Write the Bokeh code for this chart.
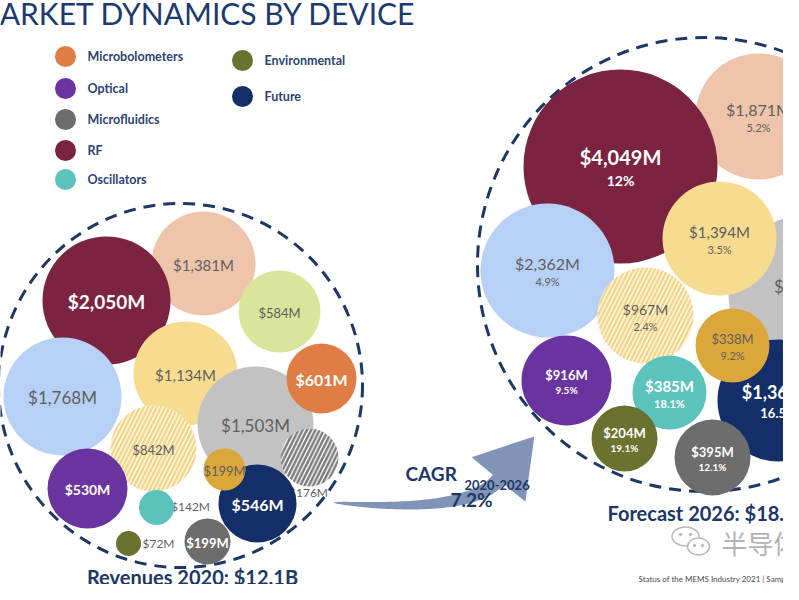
import numpy as np
from bokeh.plotting import figure
from bokeh.models import ColumnDataSource, Range1d
from bokeh.embed import file_html
from bokeh.resources import INLINE
from bokeh.core.properties import value

# ---------------- data ----------------
title_text = "MARKET DYNAMICS BY DEVICE"
legend_names = ["Microbolometers", "Optical", "Microfluidics", "RF", "Oscillators",
                "Environmental", "Future"]

devices_2020 = ["Microphones", "Inkjet", "RF", "Accelerometers", "Pressure",
                "Inertial combos", "Microbolometers", "Gyroscopes", "Others", "Optical",
                "Future", "Thermopiles", "Oscillators", "Environmental", "Microfluidics"]
revenue_2020 = [1381, 584, 2050, 1134, 1768, 1503, 601, 842, 176, 530, 546, 199, 142, 72, 199]

devices_2026 = ["Inertial combos", "Microphones", "RF", "Pressure", "Accelerometers",
                "Gyroscopes", "Future", "Thermopiles", "Optical", "Oscillators",
                "Environmental", "Microfluidics"]
revenue_2026 = [2132, 1871, 4049, 2362, 1394, 967, 1363, 338, 916, 385, 204, 395]
cagr_2026 = [6.0, 5.2, 12, 4.9, 3.5, 2.4, 16.5, 9.2, 9.5, 18.1, 19.1, 12.1]

total_2020 = "Revenues 2020: $12.1B"
total_2026 = "Forecast 2026: $18.2B"
cagr_period = "2020-2026"
cagr_total = 7.2

# ---------------- styles ----------------
NAVY = "#1d3766"
LABEL_GRAY = "#5f5f5f"
FONT = "Lato"
fill_colors = {
    "Microphones": "#EEC5AB", "Inkjet": "#D9E59B", "RF": "#7B2341",
    "Accelerometers": "#F7DC8F", "Pressure": "#B7D0F6", "Inertial combos": "#C2C2C2",
    "Microbolometers": "#E07D45", "Gyroscopes": "#FFFFFF", "Others": "#FFFFFF",
    "Optical": "#6A34A0", "Future": "#142F68", "Thermopiles": "#DCA73A",
    "Oscillators": "#5BC3BC", "Environmental": "#6A7230", "Microfluidics": "#6D6D6D",
}
hatch_colors = {"Gyroscopes": "#F5D27E", "Others": "#7A7A7A"}
dark_devices = {"RF", "Microbolometers", "Optical", "Future", "Oscillators",
                "Environmental", "Microfluidics"}

# ---------------- layout (pixel positions of the packed bubbles) ----------------
cx_2020 = [203, 279, 106, 185, 62, 255, 321, 153, 309, 87, 257, 224, 156, 128, 207]
cy_2020 = [271, 319, 308, 381, 404, 432, 386, 456, 465, 496, 511, 477, 515, 551, 549]
rad_2020 = [52, 41, 64, 52, 59, 58, 35, 43, 29, 40, 39, 21, 17.5, 12.5, 23]
fs_2020 = [15, 13, 19, 15, 17, 17, 16, 13, 12, 14, 16, 13, 12, 12, 13]
outside_label_2020 = {"Others": (308, 500), "Oscillators": (190, 514), "Environmental": (158, 551)}

cx_2026 = [808, 758, 620, 547, 719, 645, 778, 732, 566, 669, 624, 712]
cy_2026 = [302, 124, 174, 278, 246, 323, 408, 353, 388, 400, 446, 465]
rad_2026 = [80, 63, 97, 67, 57, 48, 61, 37, 45, 37, 33, 38]
fsv_2026 = [17, 16, 20, 16, 15, 14, 18, 13, 13, 15, 13, 13]
fsg_2026 = [12, 11, 14, 11, 11, 11, 13, 11, 10, 11, 10, 10]

ring_2020 = (180, 393, 182)
ring_2026 = (704, 272, 227)

legend_x = [65, 65, 65, 65, 65, 242, 242]
legend_y = [64, 96, 127, 158, 187, 68, 104]

# ---------------- figure ----------------
p = figure(width=783, height=584, x_range=Range1d(0, 783), y_range=Range1d(592, 8),
           output_backend="svg", toolbar_location=None,
           x_axis_location=None, y_axis_location=None,
           min_border=0, min_border_left=0, min_border_right=0,
           min_border_top=0, min_border_bottom=0)
p.grid.visible = False
p.outline_line_color = None
p.background_fill_color = "white"
p.border_fill_color = "white"

# title
p.text(x=[416], y=[20], text=[title_text], text_align="right", text_baseline="middle",
       text_font=value(FONT), text_font_size="30px", text_color="#1c3a70")

# legend
leg = ColumnDataSource(dict(x=legend_x, y=legend_y, name=legend_names,
                            color=[fill_colors[n] for n in legend_names],
                            tx=[x + 22 for x in legend_x]))
p.circle(x="x", y="y", radius=10.5, source=leg, fill_color="color", line_color=None)
p.text(x="tx", y="y", text="name", source=leg, text_baseline="middle",
       text_font=value(FONT), text_font_size="12.5px", text_color="#2d4373",
       text_font_style="bold")

# dashed rings
p.circle(x=[ring_2020[0], ring_2026[0]], y=[ring_2020[1], ring_2026[1]],
         radius=[ring_2020[2], ring_2026[2]], fill_color=None, line_color=NAVY,
         line_width=3, line_dash="12 8")

# arrow (curved band + head)
M = np.array([498.0, 487.0])
d = np.array([0.64, -0.77]); d = d / np.linalg.norm(d)
n = np.array([-d[1], d[0]])
P0 = np.array([332.0, 510.0]); P1 = M - 45 * d; P2 = M
s = np.linspace(0, 1, 60)[:, None]
C = (1 - s) ** 2 * P0 + 2 * s * (1 - s) * P1 + s ** 2 * P2
T = 2 * (1 - s) * (P1 - P0) + 2 * s * (P2 - P1)
T = T / np.linalg.norm(T, axis=1)[:, None]
N = np.column_stack([-T[:, 1], T[:, 0]])
w = 7.5 * s ** 0.5
upper = C - w * N
lower = C + w * N
head = np.array([M - 35 * n, M + 56 * d, M + 35 * n])
poly = np.vstack([upper, head, lower[::-1]])
p.patch(x=poly[:, 0], y=poly[:, 1], fill_color="#8094b7", line_color=None)

# ---- bubbles 2020 ----
lx, ly, lcol, lstyle = [], [], [], []
for name, x, y in zip(devices_2020, cx_2020, cy_2020):
    if name in outside_label_2020:
        ox, oy = outside_label_2020[name]
        lx.append(ox); ly.append(oy); lcol.append(LABEL_GRAY); lstyle.append("normal")
    else:
        lx.append(x); ly.append(y + 1)
        dark = name in dark_devices
        lcol.append("white" if dark else LABEL_GRAY)
        lstyle.append("bold" if dark else "normal")

src20 = ColumnDataSource(dict(
    x=cx_2020, y=cy_2020, r=rad_2020,
    color=[fill_colors[n] for n in devices_2020],
    hatch=["/" if n in hatch_colors else " " for n in devices_2020],
    hcolor=[hatch_colors.get(n, "#FFFFFF") for n in devices_2020],
    label=[f"${v:,}M" for v in revenue_2020],
    lx=lx, ly=ly, lcol=lcol, lstyle=lstyle,
    fs=[f"{f}px" for f in fs_2020],
    outside=[n in outside_label_2020 for n in devices_2020],
))
out_idx = [i for i, o in enumerate(src20.data["outside"]) if o]
in_idx = [i for i, o in enumerate(src20.data["outside"]) if not o]


def subset(src, idx):
    return ColumnDataSource({k: [v[i] for i in idx] for k, v in src.data.items()})


# outside labels first (they sit under neighbouring bubbles)
p.text(x="lx", y="ly", text="label", source=subset(src20, out_idx), text_align="center",
       text_baseline="middle", text_font=value(FONT), text_font_size="fs",
       text_color="lcol", text_font_style="lstyle")
p.circle(x="x", y="y", radius="r", source=src20, fill_color="color", line_color=None,
         hatch_pattern="hatch", hatch_color="hcolor", hatch_scale=8.5, hatch_weight=2.5)
p.text(x="lx", y="ly", text="label", source=subset(src20, in_idx), text_align="center",
       text_baseline="middle", text_font=value(FONT), text_font_size="fs",
       text_color="lcol", text_font_style="lstyle")

# ---- bubbles 2026 ----
gap = [0.68 * (a + b) for a, b in zip(fsv_2026, fsg_2026)]
dark26 = [n in dark_devices for n in devices_2026]
src26 = ColumnDataSource(dict(
    x=cx_2026, y=cy_2026, r=rad_2026,
    color=[fill_colors[n] for n in devices_2026],
    hatch=["/" if n in hatch_colors else " " for n in devices_2026],
    hcolor=[hatch_colors.get(n, "#FFFFFF") for n in devices_2026],
    label=[f"${v:,}M" for v in revenue_2026],
    growth=[f"{g:g}%" for g in cagr_2026],
    vy=[y + 2 - g / 2 for y, g in zip(cy_2026, gap)],
    gy=[y + 2 + g / 2 for y, g in zip(cy_2026, gap)],
    lcol=["white" if dk else LABEL_GRAY for dk in dark26],
    lstyle=["bold" if dk else "normal" for dk in dark26],
    fsv=[f"{f}px" for f in fsv_2026],
    fsg=[f"{f}px" for f in fsg_2026],
))
p.circle(x="x", y="y", radius="r", source=src26, fill_color="color", line_color=None,
         hatch_pattern="hatch", hatch_color="hcolor", hatch_scale=8.5, hatch_weight=2.5)
p.text(x="x", y="vy", text="label", source=src26, text_align="center",
       text_baseline="middle", text_font=value(FONT), text_font_size="fsv",
       text_color="lcol", text_font_style="lstyle")
p.text(x="x", y="gy", text="growth", source=src26, text_align="center",
       text_baseline="middle", text_font=value(FONT), text_font_size="fsg",
       text_color="lcol", text_font_style="lstyle")

# CAGR annotation
p.text(x=[405], y=[481], text=["CAGR"], text_baseline="middle", text_font=value(FONT),
       text_font_size="19px", text_font_style="bold", text_color=NAVY)
p.text(x=[464], y=[492], text=[cagr_period], text_baseline="middle", text_font=value(FONT),
       text_font_size="13px", text_font_style="bold", text_color=NAVY)
p.text(x=[471], y=[507], text=[f"{cagr_total}%"], text_align="center", text_baseline="middle",
       text_font=value(FONT), text_font_size="19px", text_font_style="bold", text_color=NAVY)

# totals
p.text(x=[192], y=[584.5], text=[total_2020], text_align="center", text_baseline="middle",
       text_font=value(FONT), text_font_size="20px", text_font_style="bold", text_color=NAVY)
p.text(x=[607], y=[520], text=[total_2026], text_baseline="middle",
       text_font=value(FONT), text_font_size="20px", text_font_style="bold", text_color=NAVY)

# watermark (WeChat icon + text)
p.ellipse(x=[685], y=[544], width=[27], height=[19], fill_color="white",
          line_color="#b8b8b8", line_width=1.5)
p.ellipse(x=[698], y=[554], width=[22], height=[17], fill_color="white",
          line_color="#b8b8b8", line_width=1.5)
p.scatter(x=[680, 690, 694, 702], y=[542, 542, 553, 553], size=2.5, color="#b8b8b8")
p.text(x=[721], y=[550], text=["半导体行业观察"], text_baseline="middle",
       text_font=value("Noto Sans CJK SC"), text_font_size="26px", text_color="#b3b3b3")

# footer
p.text(x=[638], y=[586], text=["Status of the MEMS Industry 2021 | Sample"],
       text_baseline="middle", text_font=value(FONT), text_font_size="8px",
       text_color="#4a4a4a")

open("out.html", "w").write(file_html(p, INLINE))
